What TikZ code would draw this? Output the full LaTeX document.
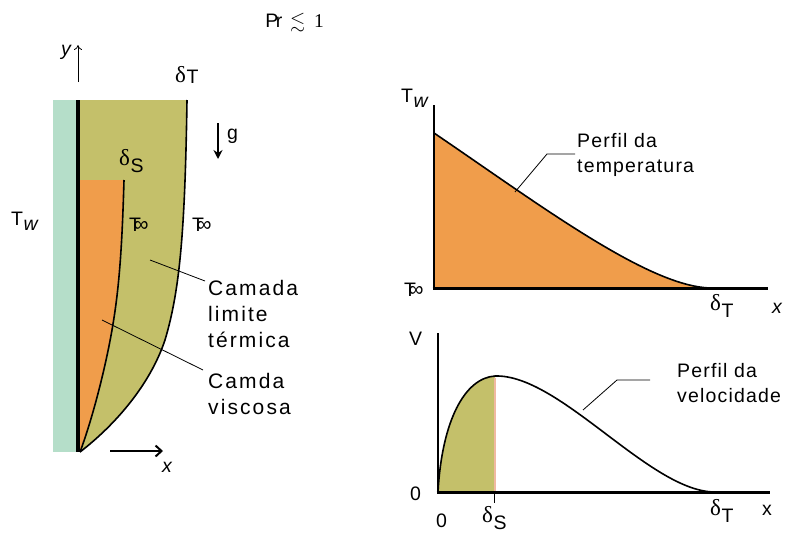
\documentclass[tikz,border=0pt]{standalone}
\usepackage{amssymb}
\usepackage{fontspec}
\setmainfont{Liberation Sans}[LetterSpace=6]
\newfontfamily\grk{Liberation Serif}
\usetikzlibrary{arrows.meta}
\definecolor{wallc}{RGB}{181,222,201}
\definecolor{olivec}{RGB}{196,192,106}
\definecolor{orangec}{RGB}{240,157,75}
\definecolor{pinkc}{RGB}{240,185,160}
\newcommand{\Tinf}{T\kern-0.38em\raisebox{-0.02em}{\fontsize{21}{21}\selectfont ∞}}
\newcommand{\Tw}{T\kern0.02em\raisebox{-0.27em}{\itshape w}}
\newcommand{\dlt}[2]{{\grk\fontsize{23}{23}\selectfont δ}\kern0.03em\raisebox{-#2}{#1}}
\begin{document}
\begin{tikzpicture}[x=1pt,y=-1pt,
  lbl/.style={font=\fontsize{19.5}{24}\selectfont, inner sep=0pt, anchor=base west},
  lblbig/.style={font=\fontsize{21}{26}\selectfont\addfontfeature{LetterSpace=10}, inner sep=0pt, anchor=base west},
  curve/.style={line width=1.6pt, line join=round},
  leader/.style={line width=0.8pt},
  axis/.style={line width=3pt}]
\useasboundingbox (0,0) rectangle (787,533);

% ---------- title ----------
\node[lbl] (pr) at (267,27) {\kern-0.1em P\kern-0.12em r\hspace{0.4em}$\lesssim$\hspace{0.45em}\fontspec{Liberation Serif}1};

% ---------- left figure ----------
\fill[wallc] (53,100) rectangle (77,452);
\fill[olivec] (80,100) -- (187,100) .. controls (185,230) and (180,290) .. (165,340)
  .. controls (150,385) and (115,425) .. (80,452) -- cycle;
\fill[orangec] (80,180) -- (124,180) .. controls (122,250) and (119,290) .. (112,330)
  .. controls (105,370) and (92,420) .. (80,452) -- cycle;
\draw[curve] (187,100) .. controls (185,230) and (180,290) .. (165,340)
  .. controls (150,385) and (115,425) .. (80,452);
\draw[curve] (124,180) .. controls (122,250) and (119,290) .. (112,330)
  .. controls (105,370) and (92,420) .. (80,452);
\draw[line width=4pt] (78,100) -- (78,452);

\coordinate (ybot) at (78,82);
\coordinate (ytop) at (78,45);
\draw[line width=0.8pt,-{To[length=5pt,width=8pt]}] (ybot) -- (ytop);
\node[lbl,font=\fontsize{19.5}{24}\selectfont\itshape] (ylab) at (61,55) {y};

\node[lbl] (dT1) at (175,82) {\dlt{T}{0.08em}};
\coordinate (gtop) at (218,123);
\coordinate (gbot) at (218,159);
\draw[line width=2.4pt,-{Stealth[length=9pt,width=9pt,inset=3pt]}] (gtop) -- (gbot);
\node[lbl] (glab) at (227,139) {g};
\node[lbl] (dS1) at (119,165) {\dlt{S}{0.36em}};
\node[lbl] (Ti1) at (129,231) {\Tinf};
\node[lbl] (Ti2) at (192,231) {\Tinf};
\node[lbl] (Tw1) at (11,225) {\Tw};

\node[lblbig] (cam1) at (208,295) {Camada};
\node[lblbig] (cam2) at (208,321) {limite};
\node[lblbig] (cam3) at (208,347) {térmica};
\node[lblbig] (vis1) at (208,388) {Camda};
\node[lblbig] (vis2) at (208,414) {viscosa};
\coordinate (pt1) at (150,260);
\coordinate (pt2) at (102,320);
\draw[leader] (pt1) -- (205,281);
\draw[leader] (pt2) -- (203,370);

\coordinate (xl) at (110,451);
\coordinate (xr) at (163,451);
\draw[line width=2pt,-{Straight Barb[length=6pt,width=11pt]}] (xl) -- (xr);
\node[lbl,font=\fontsize{19.5}{24}\selectfont\itshape] (xlab) at (162,472) {x};

% ---------- top right graph ----------
\fill[orangec] (434,288) -- (434,133) .. controls (540,205) and (650,288) .. (712,288) -- cycle;
\draw[curve] (434,133) .. controls (540,205) and (650,288) .. (712,288);
\draw[line width=1.8pt] (434,105) -- (434,289);
\draw[axis] (432.5,288) -- (768,288);
\node[lbl] (Tw2) at (401,102) {\Tw};
\node[lbl] (Ti3) at (404,296) {\Tinf};
\node[lbl] (dT2) at (710,310) {\dlt{T}{0.36em}};
\node[lbl,font=\fontsize{19.5}{24}\selectfont\itshape] (x2) at (772,313) {x};
\node[lbl] (pt3a) at (577,147) {Perfil da};
\node[lbl] (pt3b) at (577,172) {temperatura};
\coordinate (c1) at (515,192);
\coordinate (c2) at (547,154);
\coordinate (c3) at (575,154);
\draw[leader] (c1) -- (c2) -- (c3);

% ---------- bottom right graph ----------
\fill[olivec] (438,492) .. controls (442,420) and (465,378) .. (495,376) -- (495,492) -- cycle;
\draw[pinkc, line width=1.5pt] (495,378) -- (495,491);
\draw[curve] (438,492) .. controls (442,420) and (465,378) .. (495,376) .. controls (560,374) and (650,492) .. (715,492);
\draw[line width=1.3pt] (438,333) -- (438,492);
\draw[axis] (436.5,492) -- (770,492);
\draw[line width=0.8pt] (494,492) -- (494,503);
\node[lbl] (V) at (409,345) {V};
\node[lbl] (z1) at (410,500) {0};
\node[lbl] (z2) at (436,527) {0};
\node[lbl] (dS2) at (482,522) {\dlt{S}{0.4em}};
\node[lbl] (dT3) at (710,515) {\dlt{T}{0.36em}};
\node[lbl] (x3) at (762,515) {x};
\node[lbl] (pv1) at (677,377) {Perfil da};
\node[lbl] (pv2) at (677,402) {velocidade};
\coordinate (d1) at (583,410);
\coordinate (d2) at (617,380);
\coordinate (d3) at (650,380);
\draw[leader] (d1) -- (d2) -- (d3);
\end{tikzpicture}
\end{document}
